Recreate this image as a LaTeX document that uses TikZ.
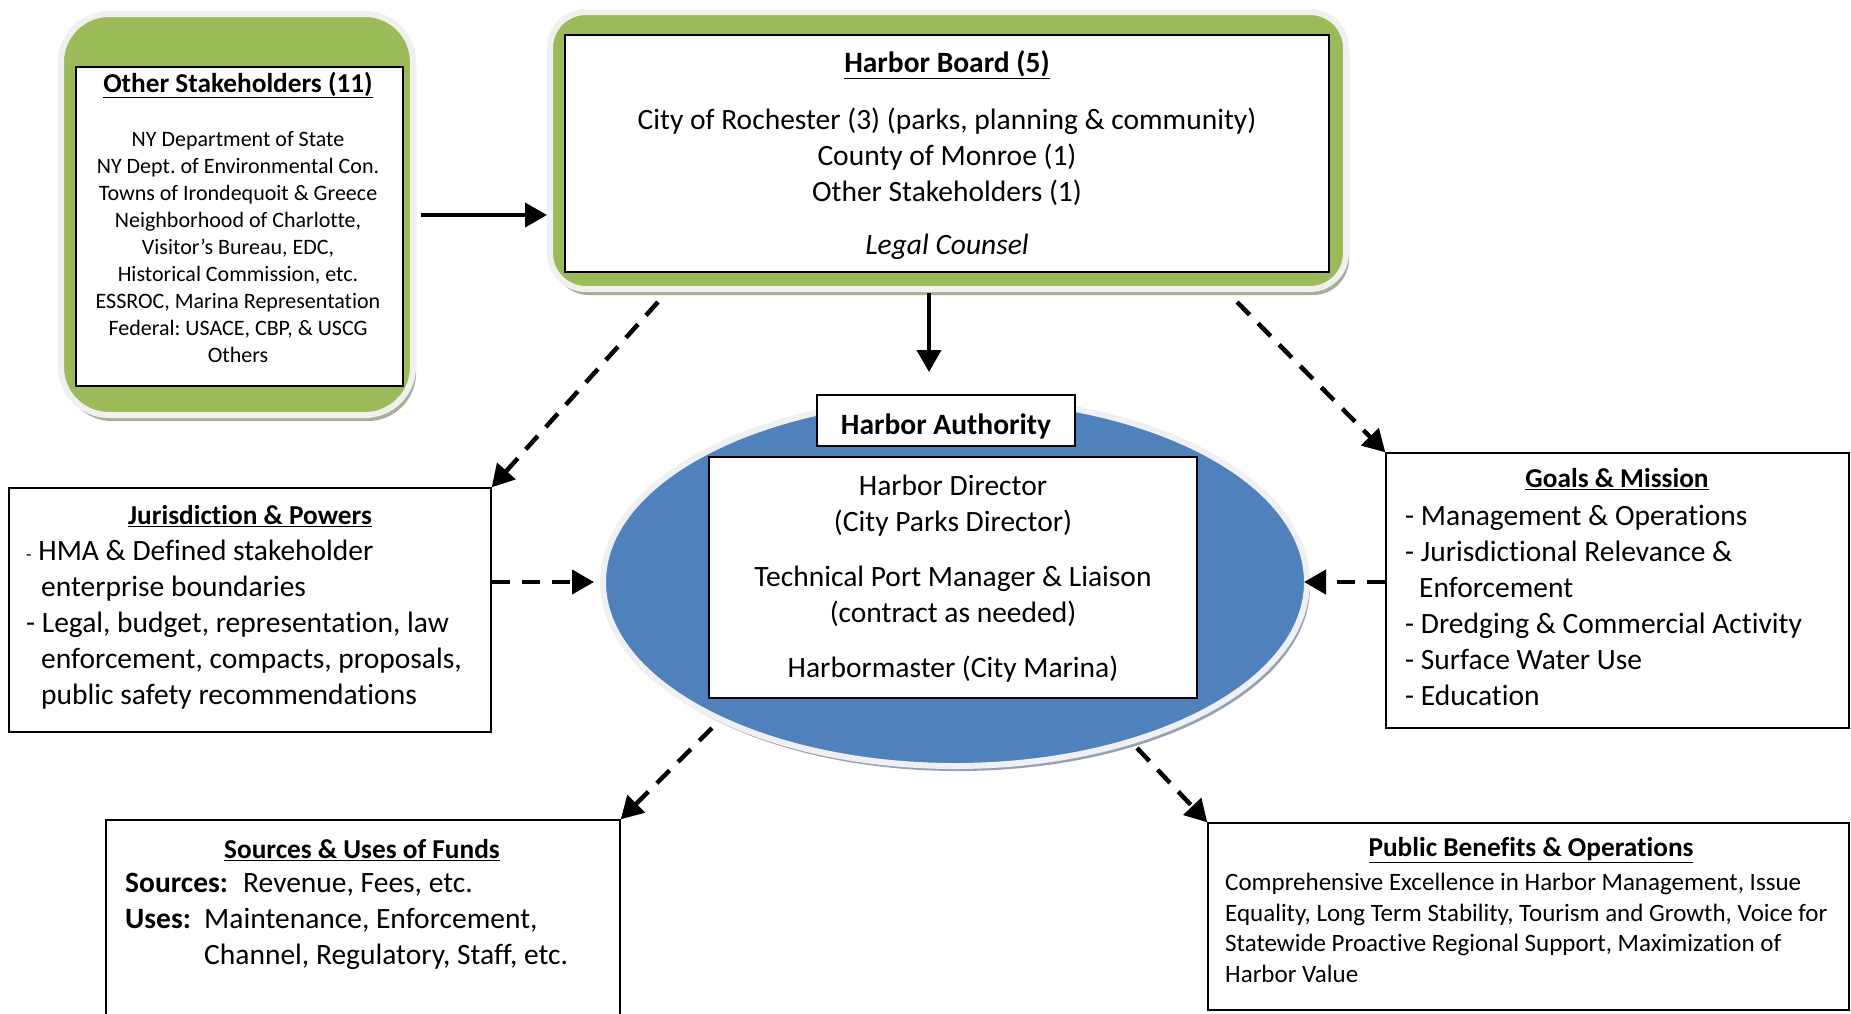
\documentclass[tikz,border=0pt]{standalone}
\usepackage{fontspec}
\setmainfont{Carlito}[Ligatures={NoCommon,NoDiscretionary}]
\usetikzlibrary{arrows.meta,shapes.geometric,shadows}
\definecolor{ogreen}{HTML}{9BBB59}
\definecolor{oblue}{HTML}{4F81BD}
\definecolor{rimc}{HTML}{F0F0F0}
\definecolor{gshadow}{HTML}{A7AF92}
\definecolor{bshadow}{HTML}{93A1B6}
\frenchspacing
\tikzset{
  greenframe/.style={draw=rimc, line width=6pt, fill=ogreen, inner sep=0pt,
    drop shadow={shadow xshift=3pt, shadow yshift=-6pt, fill=gshadow, opacity=1}},
  whitebox/.style={draw=black, line width=1.6pt, fill=white, inner sep=0pt},
  plainbox/.style={draw=black, line width=1.4pt, fill=white, inner sep=0pt},
  txt/.style={inner sep=0pt, font=\fontsize{29.5}{36}\selectfont},
  smalltxt/.style={inner sep=0pt, font=\fontsize{22}{27}\selectfont},
  midtxt/.style={inner sep=0pt, font=\fontsize{25}{30.5}\selectfont},
  boxtitle/.style={inner sep=0pt, font=\fontsize{27.3}{32}\selectfont\bfseries},
  solidarrow/.style={line width=4pt, -{Triangle[length=22pt,width=24pt]}},
  dasharrow/.style={line width=4.5pt, dash pattern=on 18pt off 12pt, -{Triangle[length=22pt,width=24pt]}}
}
\begin{document}
\begin{tikzpicture}[x=1pt,y=-1pt]
\useasboundingbox (0,0) rectangle (1851,1013);
\clip (0,0) rectangle (1851,1013);

% ---- Other Stakeholders ----
\node[greenframe, rounded corners=48pt, minimum width=352pt, minimum height=401pt] (osframe) at (237,214.5) {};
\node[whitebox, minimum width=327pt, minimum height=319pt] (osbox) at (239.5,226.5) {};
\node[boxtitle] (ostitle) at (238,85) {\underline{Other Stakeholders (11)}};
\node[smalltxt, align=center] (osbody) at (238,247) {NY Department of State\\NY Dept. of Environmental Con.\\Towns of Irondequoit \& Greece\\Neighborhood of Charlotte,\\Visitor’s Bureau, EDC,\\Historical Commission, etc.\\ESSROC, Marina Representation\\Federal: USACE, CBP, \& USCG\\Others};

% ---- Harbor Board ----
\node[greenframe, rounded corners=36pt, minimum width=796pt, minimum height=277pt] (hbframe) at (948,150.5) {};
\node[whitebox, minimum width=764pt, minimum height=237pt] (hbbox) at (947,153.5) {};
\node[txt, font=\fontsize{29.5}{36}\selectfont\bfseries] (hbtitle) at (947,65) {\underline{Harbor Board (5)}};
\node[txt, align=center] (hbbody) at (947,157) {City of Rochester (3) (parks, planning \& community)\\County of Monroe (1)\\Other Stakeholders (1)};
\node[txt, font=\fontsize{29.5}{36}\selectfont\itshape] (hblegal) at (947,247) {Legal Counsel};

% ---- Harbor Authority ellipse ----
\node[ellipse, draw=rimc, line width=6pt, fill=oblue, minimum width=704pt, minimum height=368pt, inner sep=0pt,
  drop shadow={shadow xshift=3pt, shadow yshift=-5pt, fill=bshadow, opacity=1}] (ha) at (955,582) {};
\node[plainbox, minimum width=258pt, minimum height=51pt] (hatitle) at (946,420.5) {};
\node[txt, font=\fontsize{29.5}{36}\selectfont\bfseries] (hatitletext) at (946,426) {Harbor Authority};
\node[whitebox, minimum width=488pt, minimum height=241pt] (habox) at (953,577.5) {};
\node[txt, align=center] (hadir) at (953,506) {Harbor Director\\(City Parks Director)};
\node[txt, align=center] (hatech) at (953,596) {Technical Port Manager \& Liaison\\(contract as needed)};
\node[txt] (hamaster) at (953,669) {Harbormaster (City Marina)};

% ---- Jurisdiction & Powers ----
\node[plainbox, minimum width=482pt, minimum height=244pt] (jur) at (250,610) {};
\node[boxtitle] (jurtitle) at (250,516) {\underline{Jurisdiction \& Powers}};
\node[txt, align=left, anchor=north west] (jurbody) at (26,540) {{\fontsize{18}{36}\selectfont -} HMA \& Defined stakeholder\\
\hspace*{15pt}enterprise boundaries\\
- Legal, budget, representation, law\\
\hspace*{15pt}enforcement, compacts, proposals,\\
\hspace*{15pt}public safety recommendations};

% ---- Goals & Mission ----
\node[plainbox, minimum width=463pt, minimum height=275pt] (goals) at (1617.5,590.5) {};
\node[boxtitle] (goalstitle) at (1617,479) {\underline{Goals \& Mission}};
\node[txt, align=left, anchor=north west] (goalsbody) at (1405,505) {- Management \& Operations\\
- Jurisdictional Relevance \&\\
\hspace*{14pt}Enforcement\\
- Dredging \& Commercial Activity\\
- Surface Water Use\\
- Education};

% ---- Sources & Uses of Funds ----
\node[plainbox, minimum width=514pt, minimum height=230pt] (src) at (363,935) {};
\node[boxtitle] (srctitle) at (362,850) {\underline{Sources \& Uses of Funds}};
\node[txt, align=left, anchor=north west] (srcbody) at (125,873) {\makebox[118pt][l]{\bfseries Sources:}Revenue, Fees, etc.\\
\makebox[79pt][l]{\bfseries Uses:}Maintenance, Enforcement,\\
\hspace*{79pt}Channel, Regulatory, Staff, etc.};

% ---- Public Benefits & Operations ----
\node[plainbox, minimum width=641pt, minimum height=187pt] (pb) at (1528.5,916.5) {};
\node[boxtitle] (pbtitle) at (1531,850) {\underline{Public Benefits \& Operations}};
\node[midtxt, align=left, anchor=north west] (pbbody) at (1225,873) {Comprehensive Excellence in Harbor Management, Issue\\
Equality, Long Term Stability, Tourism and Growth, Voice for\\
Statewide Proactive Regional Support, Maximization of\\
Harbor Value};

% ---- connector end points ----
\coordinate (osout) at (421,215);
\coordinate (hbin) at (547,215);
\coordinate (hbdown) at (929,293);
\coordinate (hain) at (929,372);
\coordinate (hbsw) at (658,302);
\coordinate (hbse) at (1237,302);
\coordinate (hasw) at (712,728);
\coordinate (hase) at (1137,748);

% ---- connectors ----
\draw[solidarrow] (osout) -- (hbin);
\draw[solidarrow] (hbdown) -- (hain);
\draw[dasharrow] (hbsw) -- (jur.north east);
\draw[dasharrow] (hbse) -- (goals.north west);
\draw[dasharrow] (jur.east |- ha.west) -- ([xshift=-6pt]ha.west);
\draw[dasharrow] (goals.west |- ha.east) -- ([xshift=-6pt]ha.east);
\draw[dasharrow] (hasw) -- (src.north east);
\draw[dasharrow] (hase) -- (pb.north west);
\end{tikzpicture}
\end{document}
